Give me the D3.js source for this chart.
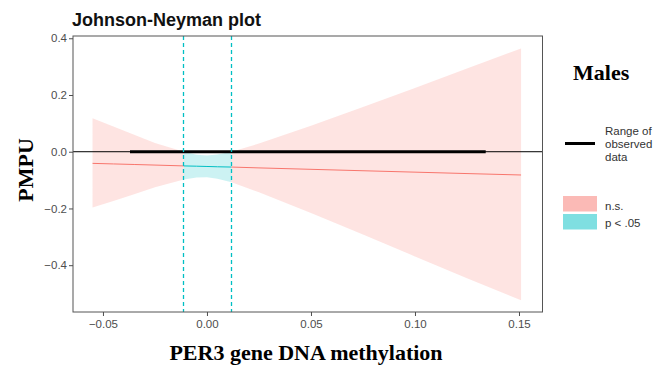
<!DOCTYPE html>
<html>
<head>
<meta charset="utf-8">
<script src="https://cdn.jsdelivr.net/npm/d3@7"></script>
<style>
  body { margin: 0; background: #fff; }
  svg { display: block; }
  .axis text { font-family: "Liberation Sans", Arial, sans-serif; font-size: 11.5px; fill: #4d4d4d; }
  .axis line { stroke: #4d4d4d; }
  .axis path { display: none; }
</style>
</head>
<body>
<svg id="chart" width="665" height="365"></svg>
<script>
// moderator values and the conditional slope with its confidence band
const xs = [-0.055, -0.045, -0.035, -0.025, -0.0111, -0.005, 0, 0.005, 0.0118, 0.025, 0.05, 0.075, 0.1, 0.125, 0.151];
const est = [-0.041, -0.043, -0.045, -0.047, -0.050, -0.051, -0.052, -0.053, -0.054, -0.057, -0.062, -0.067, -0.072, -0.077, -0.082];
const lower = [-0.197, -0.174, -0.150, -0.125, -0.098, -0.091, -0.090, -0.095, -0.108, -0.143, -0.216, -0.292, -0.369, -0.446, -0.524];
const upper = [0.118, 0.089, 0.060, 0.031, 0.000, -0.011, -0.013, -0.010, 0.000, 0.029, 0.092, 0.158, 0.225, 0.293, 0.364];

const jnBounds = [-0.0111, 0.0118];
const observedRange = [-0.037, 0.134];

const xTicks = [-0.05, 0, 0.05, 0.1, 0.15];
const yTicks = [-0.4, -0.2, 0, 0.2, 0.4];

const colNs = '#F8766D';
const colSig = '#00BFC4';

const svg = d3.select('#chart');

const panelLeft = 73;
const panelRight = 542.5;
const panelTop = 36;
const panelBottom = 312;

const x = d3.scaleLinear().domain([-0.0644, 0.1613]).range([panelLeft, panelRight]);
const y = d3.scaleLinear().domain([-0.565, 0.408]).range([panelBottom, panelTop]);

const pts = xs.map((d, i) => ({
  x: d, est: est[i], lo: lower[i], hi: upper[i],
}));

// split the band at the Johnson-Neyman points
const segments = [
  { sig: false, data: pts.filter((d) => d.x <= jnBounds[0]) },
  { sig: true, data: pts.filter((d) => d.x >= jnBounds[0] && d.x <= jnBounds[1]) },
  { sig: false, data: pts.filter((d) => d.x >= jnBounds[1]) },
];

const area = d3.area()
  .x((d) => x(d.x))
  .y0((d) => y(d.lo))
  .y1((d) => y(d.hi));

const line = d3.line()
  .x((d) => x(d.x))
  .y((d) => y(d.est));

const g = svg.append('g');

g.selectAll('path.band')
  .data(segments)
  .enter()
  .append('path')
  .attr('class', 'band')
  .attr('d', (d) => area(d.data))
  .attr('fill', (d) => (d.sig ? colSig : colNs))
  .attr('fill-opacity', 0.2);

g.selectAll('path.est')
  .data(segments)
  .enter()
  .append('path')
  .attr('class', 'est')
  .attr('d', (d) => line(d.data))
  .attr('fill', 'none')
  .attr('stroke', (d) => (d.sig ? colSig : colNs))
  .attr('stroke-width', 1);

// zero line and range of observed data
g.append('line')
  .attr('x1', panelLeft).attr('x2', panelRight)
  .attr('y1', y(0)).attr('y2', y(0))
  .attr('stroke', '#000')
  .attr('stroke-width', 1);

g.append('line')
  .attr('x1', x(observedRange[0])).attr('x2', x(observedRange[1]))
  .attr('y1', y(0)).attr('y2', y(0))
  .attr('stroke', '#000')
  .attr('stroke-width', 3);

// JN boundaries, snapped to the pixel grid
g.selectAll('line.jn')
  .data(jnBounds)
  .enter()
  .append('line')
  .attr('class', 'jn')
  .attr('x1', (d) => Math.floor(x(d)) + 0.5)
  .attr('x2', (d) => Math.floor(x(d)) + 0.5)
  .attr('y1', panelTop).attr('y2', panelBottom)
  .attr('stroke', colSig)
  .attr('stroke-width', 1.3)
  .attr('stroke-dasharray', '4,3');

// panel border
svg.append('rect')
  .attr('x', panelLeft).attr('y', panelTop)
  .attr('width', panelRight - panelLeft).attr('height', panelBottom - panelTop)
  .attr('fill', 'none')
  .attr('stroke', '#555')
  .attr('stroke-width', 1);

// axes
svg.append('g')
  .attr('class', 'axis')
  .attr('transform', `translate(${panelLeft},0)`)
  .call(d3.axisLeft(y).tickValues(yTicks).tickSize(4).tickPadding(2)
    .tickFormat(d3.format('.1f')));

svg.append('g')
  .attr('class', 'axis')
  .attr('transform', `translate(0,${panelBottom})`)
  .call(d3.axisBottom(x).tickValues(xTicks).tickSize(4).tickPadding(4)
    .tickFormat(d3.format('.2f')));

// titles
svg.append('text')
  .attr('x', 72)
  .attr('y', 26)
  .attr('font-family', '"Liberation Sans", Arial, sans-serif')
  .attr('font-weight', 'bold')
  .attr('font-size', '18px')
  .attr('fill', '#111')
  .text('Johnson-Neyman plot');

svg.append('text')
  .attr('transform', 'translate(33,170) rotate(-90)')
  .attr('text-anchor', 'middle')
  .attr('font-family', '"Liberation Serif", "Times New Roman", serif')
  .attr('font-weight', 'bold')
  .attr('font-size', '22px')
  .text('PMPU');

svg.append('text')
  .attr('x', 306)
  .attr('y', 360)
  .attr('text-anchor', 'middle')
  .attr('font-family', '"Liberation Serif", "Times New Roman", serif')
  .attr('font-weight', 'bold')
  .attr('font-size', '22px')
  .text('PER3 gene DNA methylation');

// legend
const lg = svg.append('g');

lg.append('text')
  .attr('x', 573)
  .attr('y', 80)
  .attr('font-family', '"Liberation Serif", "Times New Roman", serif')
  .attr('font-weight', 'bold')
  .attr('font-size', '22px')
  .text('Males');

lg.append('line')
  .attr('x1', 565).attr('x2', 595)
  .attr('y1', 143.5).attr('y2', 143.5)
  .attr('stroke', '#000')
  .attr('stroke-width', 3);

lg.append('text')
  .attr('x', 605)
  .attr('y', 135)
  .attr('font-family', '"Liberation Sans", Arial, sans-serif')
  .attr('font-size', '11.5px')
  .attr('fill', '#333')
  .selectAll('tspan')
  .data(['Range of', 'observed', 'data'])
  .enter()
  .append('tspan')
  .attr('x', 605)
  .attr('dy', (d, i) => (i === 0 ? 0 : 13))
  .text((d) => d);

const keys = [
  { label: 'n.s.', color: colNs },
  { label: 'p < .05', color: colSig },
];

lg.selectAll('rect.key')
  .data(keys)
  .enter()
  .append('rect')
  .attr('class', 'key')
  .attr('x', 563)
  .attr('y', (d, i) => 196 + i * 18)
  .attr('width', 34)
  .attr('height', 15.5)
  .attr('fill', (d) => d.color)
  .attr('fill-opacity', 0.5);

lg.selectAll('text.key')
  .data(keys)
  .enter()
  .append('text')
  .attr('class', 'key')
  .attr('x', 605)
  .attr('y', (d, i) => 209.5 + i * 17.5)
  .attr('font-family', '"Liberation Sans", Arial, sans-serif')
  .attr('font-size', '11.5px')
  .attr('fill', '#333')
  .text((d) => d.label);
</script>
</body>
</html>
